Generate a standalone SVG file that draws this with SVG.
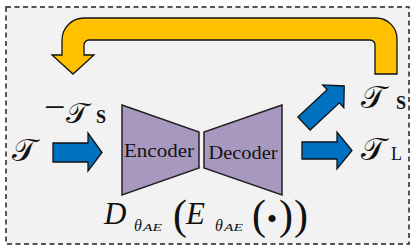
<svg xmlns="http://www.w3.org/2000/svg" width="416" height="252" viewBox="0 0 416 252">
<style>
.frame{fill:#f2f2f2;stroke:#222;stroke-width:1.5;stroke-dasharray:5,3.5}
.blue{fill:#0070c0;stroke:#111;stroke-width:1.3;stroke-linejoin:miter}
.gold{fill:#ffc000;stroke:#111;stroke-width:1.3}
.trap{fill:#a898c0;stroke:#222;stroke-width:1.5;stroke-linejoin:miter}
.lbl{font-family:"Liberation Serif","DejaVu Serif",serif;fill:#111}
.cal{font-family:"DejaVu Serif","DejaVu Sans","Noto Sans",serif;fill:#111}
.it{font-family:"Liberation Serif","DejaVu Serif",serif;font-style:italic;fill:#111}
</style>
<rect class="frame" x="6" y="7" width="403" height="237"/>
<g id="connectors">
<path id="feedback" class="gold" d="M375,74 V45 A5,5 0 0 0 370,40 H89 A5,5 0 0 0 84,45 V55 H94 L73,74 L52,55 H62 V40 A22,22 0 0 1 84,18 H376 A21,21 0 0 1 397,39 V74 Z"/>
<path id="arrow-in" class="blue" d="M53,143 H88 V133 L102,152.5 L88,171 V162 H53 Z"/>
<path id="arrow-L" class="blue" d="M302,142 H337 V132 L352,150.5 L337,169 V159 H302 Z"/>
<path id="arrow-S" class="blue" transform="translate(304,123.5) rotate(-43)" d="M0,-9 H40 V-15.5 L55,0 L40,15.5 V9 H0 Z"/>
</g>
<g id="encoder">
<path class="trap" d="M122,105 L199,132 V168 L122,195 Z"/>
<text class="lbl" x="159" y="157" font-size="18.5" text-anchor="middle" textLength="70" lengthAdjust="spacingAndGlyphs">Encoder</text>
</g>
<g id="decoder">
<path class="trap" d="M282,105 L204,132 V168 L282,195 Z"/>
<text class="lbl" x="243" y="159" font-size="18.5" text-anchor="middle" textLength="69" lengthAdjust="spacingAndGlyphs">Decoder</text>
</g>
<g id="label-T">
<text class="cal" x="12" y="161" font-size="32">𝒯</text>
</g>
<g id="label-negTS">
<text class="lbl" x="44" y="120" font-size="38">−</text>
<text class="cal" x="66" y="123" font-size="29">𝒯</text>
<text class="lbl" x="96" y="123" font-size="18" font-weight="bold">S</text>
</g>
<g id="label-TS">
<text class="cal" x="361" y="108" font-size="32">𝒯</text>
<text class="lbl" x="396" y="109" font-size="18" font-weight="bold">S</text>
</g>
<g id="label-TL">
<text class="cal" x="361" y="160" font-size="32">𝒯</text>
<text class="lbl" x="391" y="160" font-size="18">L</text>
</g>
<g id="formula">
<text class="it" x="104" y="224" font-size="31">D</text>
<text class="it" x="134" y="231" font-size="16">θ</text>
<text class="it" x="143" y="231" font-size="11" textLength="19" lengthAdjust="spacingAndGlyphs">AE</text>
<text class="lbl" x="173" y="229" font-size="42">(</text>
<text class="it" x="186" y="224" font-size="31">E</text>
<text class="it" x="215" y="231" font-size="16">θ</text>
<text class="it" x="224" y="231" font-size="11" textLength="19" lengthAdjust="spacingAndGlyphs">AE</text>
<text class="lbl" x="252" y="229" font-size="42">(</text>
<text class="lbl" x="272" y="229" font-size="30" text-anchor="middle">•</text>
<text class="lbl" x="279" y="229" font-size="42">)</text>
<text class="lbl" x="294" y="229" font-size="42">)</text>
</g>
</svg>
